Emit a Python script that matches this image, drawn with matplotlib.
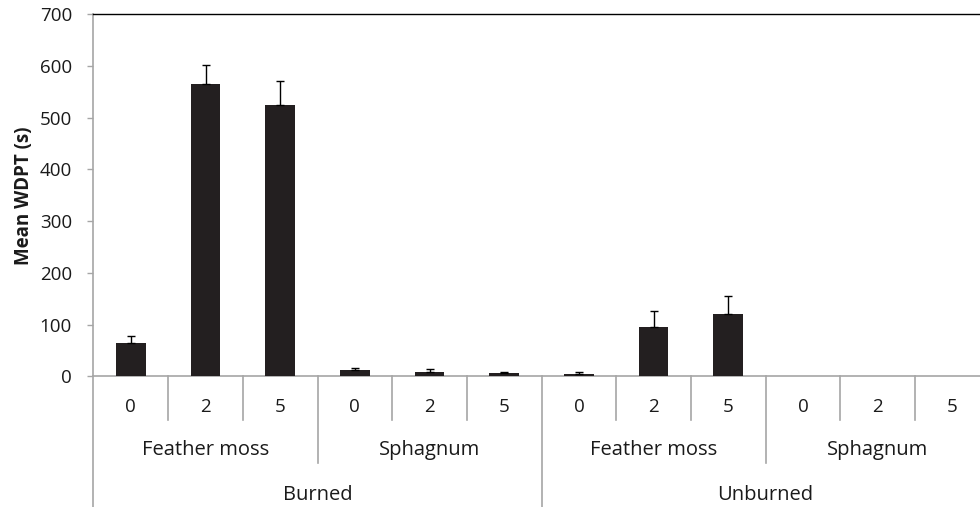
import numpy as np
import matplotlib.pyplot as plt

plt.rcParams["font.family"] = ["Open Sans", "DejaVu Sans"]
plt.rcParams["font.size"] = 12

# data
treatments = ["Burned", "Unburned"]
mosses = ["Feather moss", "Sphagnum"]
depths = ["0", "2", "5"]
mean_wdpt = [65, 565, 525, 12, 9, 6, 4.5, 95, 120, 0, 0, 0]
err_upper = [13.5, 36, 46, 3.5, 4.5, 3, 3, 31, 35, 0, 0, 0]

grey = "#a6a6a6"
bar_col = "#231f20"
txt = "#1a1a1a"

fig = plt.figure(figsize=(9.8, 5.07), dpi=100)
# the category axis runs a little past the right edge of the picture
ax = fig.add_axes([0.0954, 0.2578, 0.9144, 0.714])

x = np.arange(len(mean_wdpt))
ax.bar(x, mean_wdpt, width=0.4, color=bar_col, zorder=3)
has_err = np.array(err_upper) > 0
ax.errorbar(x[has_err], np.array(mean_wdpt)[has_err],
            yerr=[np.zeros(has_err.sum()), np.array(err_upper)[has_err]],
            fmt="none", ecolor="black", elinewidth=1, capsize=3, capthick=1, zorder=4)

ax.set_xlim(-0.5, len(x) - 0.5)
ax.set_ylim(0, 700)
ax.set_yticks(range(0, 701, 100))
ax.set_xticks([])
ax.tick_params(axis="y", length=4.5, color=grey, width=1, pad=11, labelsize=13.5, labelcolor=txt)

ax.spines["right"].set_visible(False)
ax.spines["top"].set_color("black")
ax.spines["top"].set_linewidth(1)
ax.spines["bottom"].set_color(grey)
ax.spines["left"].set_color(grey)
ax.spines["bottom"].set_linewidth(1.2)
ax.spines["left"].set_linewidth(1.2)

ax.set_ylabel("Mean WDPT (s)", fontsize=13.5, fontweight="bold", labelpad=4, color=txt)

# multi-level category axis
tr = ax.get_xaxis_transform()
lvl1, lvl2, lvl3 = -0.121, -0.240, -0.361
ax.plot([-0.5, -0.5], [0, lvl3], color=grey, lw=1.2, transform=tr, clip_on=False)
for i, d in enumerate(depths * 4):
    ax.text(i, -0.085, d, ha="center", va="center", fontsize=13.5, color=txt, transform=tr)
for b in np.arange(0.5, len(x) - 1, 1.0):
    if b == 5.5:
        bottom = lvl3
    elif b in (2.5, 8.5):
        bottom = lvl2
    else:
        bottom = lvl1
    ax.plot([b, b], [0, bottom], color=grey, lw=1.2, transform=tr, clip_on=False)
for j, m in enumerate(mosses * 2):
    ax.text(3 * j + 1, -0.204, m, ha="center", va="center", fontsize=14.5, color=txt, transform=tr)
for k, t in enumerate(treatments):
    ax.text(6 * k + 2.5, -0.328, t, ha="center", va="center", fontsize=14.5, color=txt, transform=tr)

fig.savefig("out.png", dpi=100)
